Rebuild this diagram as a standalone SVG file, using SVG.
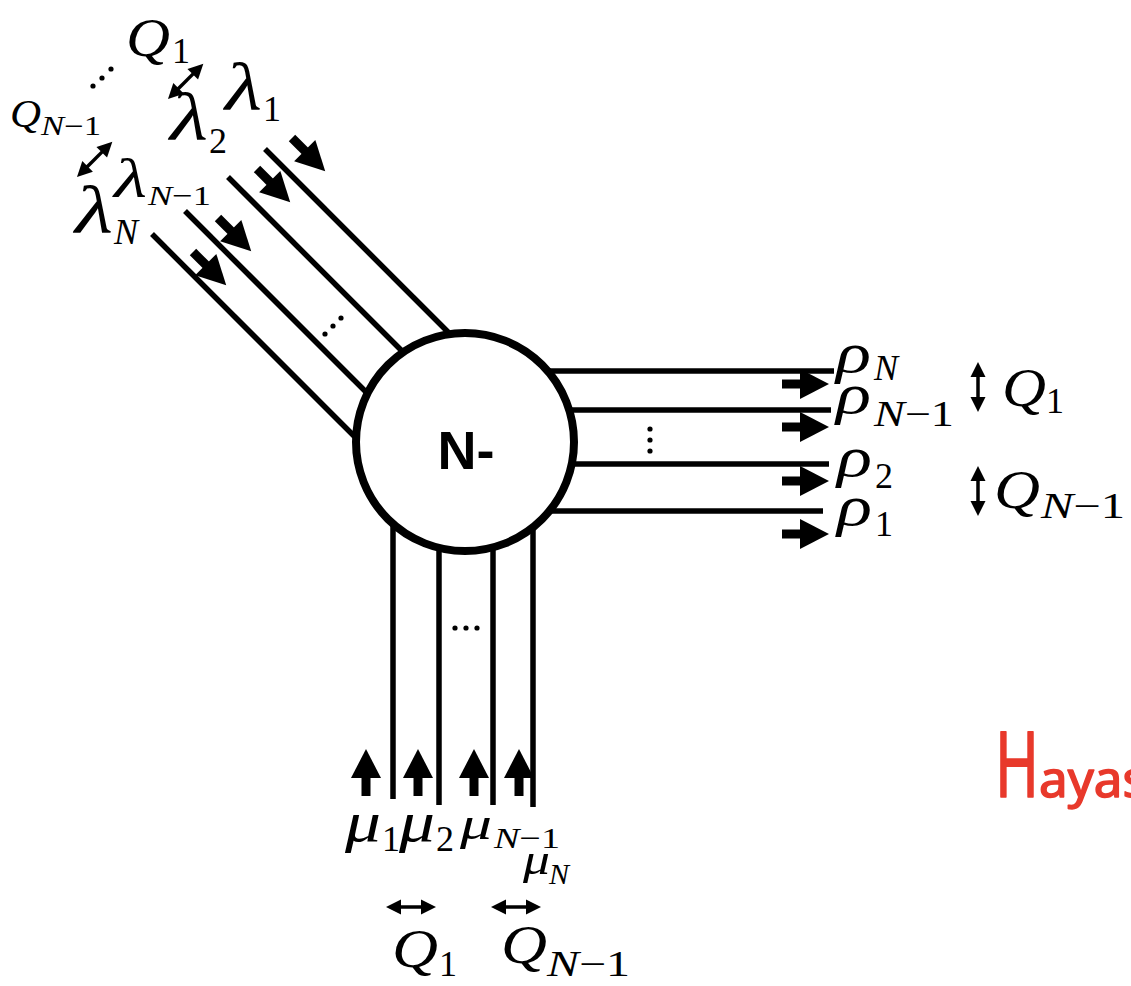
<svg xmlns="http://www.w3.org/2000/svg" xmlns:xlink="http://www.w3.org/1999/xlink" width="1131" height="986" viewBox="0 0 1131 986">
<style>
.ln{stroke:#000;stroke-width:5.5;fill:none}
.m{font-family:"Liberation Serif","DejaVu Serif",serif;font-style:italic;fill:#000}
.big{font-size:54px}
.gk{font-size:58px}
.lam{font-size:68px}
.sub{font-size:36px}
.up{font-style:normal}
.dot{fill:#000}
.da{stroke:#000;stroke-width:3.5;fill:none}
</style>
<defs>
<g id="arr"><rect x="0" y="-4.5" width="22" height="9" fill="#000"/><polygon points="18,-15 47,0 18,15" fill="#000"/></g>
<g id="dbl"><line x1="12" y1="0" x2="38" y2="0" class="da"/><polygon points="0,0 15,-7.5 15,7.5" fill="#000"/><polygon points="50,0 35,-7.5 35,7.5" fill="#000"/></g>
</defs>
<rect width="1131" height="986" fill="#fff"/>
<g id="connectors">
<line class="ln" x1="265" y1="149" x2="470" y2="354"/>
<line class="ln" x1="228" y1="177" x2="430" y2="379"/>
<line class="ln" x1="185" y1="211" x2="400" y2="426"/>
<line class="ln" x1="152" y1="234" x2="380" y2="462"/>
<use xlink:href="#arr" transform="translate(292,138) rotate(45)"/>
<use xlink:href="#arr" transform="translate(257,169) rotate(45)"/>
<use xlink:href="#arr" transform="translate(218,218) rotate(45)"/>
<use xlink:href="#arr" transform="translate(193,252) rotate(45)"/>
<line class="ln" x1="520" y1="371" x2="834" y2="371"/>
<line class="ln" x1="520" y1="410" x2="831" y2="410"/>
<line class="ln" x1="520" y1="464" x2="829" y2="464"/>
<line class="ln" x1="520" y1="511" x2="823" y2="511"/>
<use xlink:href="#arr" transform="translate(782,384)"/>
<use xlink:href="#arr" transform="translate(782,427)"/>
<use xlink:href="#arr" transform="translate(782,481)"/>
<use xlink:href="#arr" transform="translate(782,534)"/>
<line class="ln" x1="393" y1="480" x2="393" y2="799"/>
<line class="ln" x1="439" y1="480" x2="439" y2="805"/>
<line class="ln" x1="493" y1="480" x2="493" y2="805"/>
<line class="ln" x1="533" y1="480" x2="533" y2="807"/>
<use xlink:href="#arr" transform="translate(366,796) rotate(-90)"/>
<use xlink:href="#arr" transform="translate(418,796) rotate(-90)"/>
<use xlink:href="#arr" transform="translate(474,796) rotate(-90)"/>
<use xlink:href="#arr" transform="translate(519,796) rotate(-90)"/>
<use xlink:href="#dbl" transform="translate(168,99) rotate(-45)"/>
<use xlink:href="#dbl" transform="translate(77,177) rotate(-45)"/>
<use xlink:href="#dbl" transform="translate(978,362) rotate(90)"/>
<use xlink:href="#dbl" transform="translate(978,466) rotate(90)"/>
<use xlink:href="#dbl" transform="translate(386,907)"/>
<use xlink:href="#dbl" transform="translate(491,907)"/>
</g>
<g id="node-N">
<circle cx="465" cy="442" r="109" fill="#fff" stroke="#000" stroke-width="8"/>
<text x="466" y="469" text-anchor="middle" font-family="'Liberation Sans',Arial,sans-serif" font-weight="bold" font-size="54">N-</text>
</g>
<g id="dots">
<circle class="dot" cx="93" cy="86" r="2.6"/><circle class="dot" cx="102" cy="78" r="2.6"/><circle class="dot" cx="111" cy="69" r="2.6"/>
<circle class="dot" cx="325" cy="334" r="2.6"/><circle class="dot" cx="333" cy="326" r="2.6"/><circle class="dot" cx="341" cy="318" r="2.6"/>
<circle class="dot" cx="650" cy="429" r="2.6"/><circle class="dot" cx="650" cy="440" r="2.6"/><circle class="dot" cx="650" cy="451" r="2.6"/>
<circle class="dot" cx="455" cy="628" r="2.6"/><circle class="dot" cx="466" cy="628" r="2.6"/><circle class="dot" cx="477" cy="628" r="2.6"/>
</g>
<g id="labels-in">
<text class="m big" x="126" y="56" textLength="44" lengthAdjust="spacingAndGlyphs">Q</text><text class="m sub up" x="172" y="63">1</text>
<text class="m lam" x="225" y="110" textLength="37" lengthAdjust="spacingAndGlyphs">λ</text><text class="m sub up" x="263" y="121">1</text>
<text class="m lam" x="170" y="140" textLength="38" lengthAdjust="spacingAndGlyphs">λ</text><text class="m sub up" x="209" y="153">2</text>
<text class="m" font-size="40" x="10" y="127" textLength="31" lengthAdjust="spacingAndGlyphs">Q</text><text class="m" font-size="27" x="41" y="135" textLength="60" lengthAdjust="spacingAndGlyphs">N<tspan class="up">−1</tspan></text>
<text class="m" font-size="54" x="114" y="197" textLength="33" lengthAdjust="spacingAndGlyphs">λ</text><text class="m" font-size="28" x="148" y="205" textLength="63" lengthAdjust="spacingAndGlyphs">N<tspan class="up">−1</tspan></text>
<text class="m lam" x="75" y="233" textLength="38" lengthAdjust="spacingAndGlyphs">λ</text><text class="m sub" x="114" y="244">N</text>
</g>
<g id="labels-out">
<text class="m gk" x="836" y="372" textLength="35" lengthAdjust="spacingAndGlyphs">ρ</text><text class="m sub" x="874" y="380">N</text>
<text class="m gk" x="836" y="413" textLength="35" lengthAdjust="spacingAndGlyphs">ρ</text><text class="m sub" x="874" y="426" textLength="80" lengthAdjust="spacingAndGlyphs">N<tspan class="up">−1</tspan></text>
<text class="m gk" x="837" y="476" textLength="35" lengthAdjust="spacingAndGlyphs">ρ</text><text class="m sub up" x="875" y="488">2</text>
<text class="m gk" x="837" y="525" textLength="35" lengthAdjust="spacingAndGlyphs">ρ</text><text class="m sub up" x="875" y="536">1</text>
<text class="m big" x="1002" y="406" textLength="44" lengthAdjust="spacingAndGlyphs">Q</text><text class="m sub up" x="1046" y="413">1</text>
<text class="m big" x="994" y="508" textLength="46" lengthAdjust="spacingAndGlyphs">Q</text><text class="m sub" x="1041" y="518" textLength="84" lengthAdjust="spacingAndGlyphs">N<tspan class="up">−1</tspan></text>
</g>
<g id="labels-service">
<text class="m gk" x="345" y="841" textLength="36" lengthAdjust="spacingAndGlyphs">μ</text><text class="m sub up" x="382" y="851">1</text>
<text class="m gk" x="399" y="841" textLength="36" lengthAdjust="spacingAndGlyphs">μ</text><text class="m sub up" x="436" y="851">2</text>
<text class="m" font-size="46" x="460" y="839" textLength="32" lengthAdjust="spacingAndGlyphs">μ</text><text class="m" font-size="30" x="494" y="848" textLength="66" lengthAdjust="spacingAndGlyphs">N<tspan class="up">−1</tspan></text>
<text class="m" font-size="44" x="523" y="874" textLength="27" lengthAdjust="spacingAndGlyphs">μ</text><text class="m" font-size="30" x="549" y="884">N</text>
<text class="m big" x="392" y="967" textLength="46" lengthAdjust="spacingAndGlyphs">Q</text><text class="m sub up" x="439" y="976">1</text>
<text class="m big" x="501" y="963" textLength="46" lengthAdjust="spacingAndGlyphs">Q</text><text class="m sub" x="547" y="976" textLength="83" lengthAdjust="spacingAndGlyphs">N<tspan class="up">−1</tspan></text>
</g>
<text y="797" font-family="'Noto Sans',sans-serif" fill="#e8392b" stroke="#e8392b" stroke-width="1.5" stroke-linejoin="round"><tspan x="995" font-size="92" textLength="44" lengthAdjust="spacingAndGlyphs">H</tspan><tspan font-size="50" textLength="108" lengthAdjust="spacingAndGlyphs">ayas</tspan></text>
</svg>
